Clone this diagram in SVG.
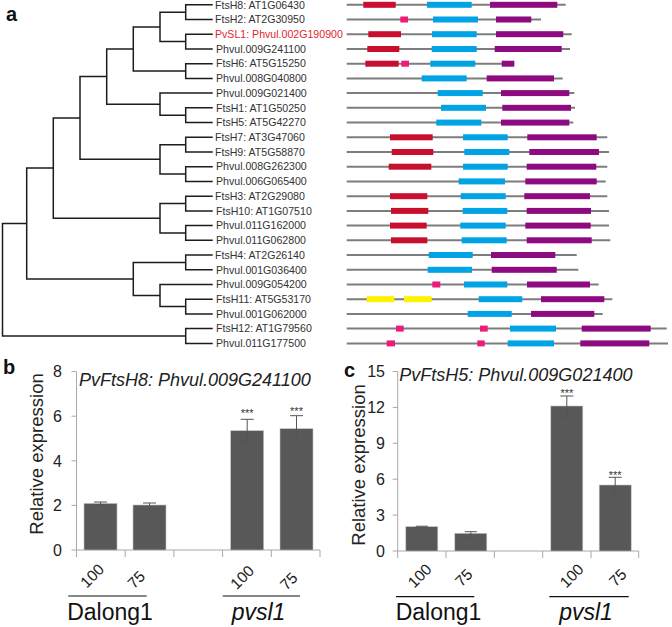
<svg xmlns="http://www.w3.org/2000/svg" width="672" height="627" viewBox="0 0 672 627">
<style>
text{font-family:"Liberation Sans",Arial,sans-serif}
.lb{font-size:10.6px;fill:#333}
.red{fill:#e3262f}
.tree{fill:none;stroke:#1c1c1c;stroke-width:1.5;stroke-linecap:square}
.ln{stroke:#7d7d7d;stroke-width:2}
.R{fill:#c8102e}.K{fill:#ec1c78}.B{fill:#00a3e4}.P{fill:#8e0a80}.Y{fill:#fff200}
.ax{stroke:#a8a8a8;stroke-width:1;fill:none}
.bar{fill:#585858;stroke:#c4c4c4;stroke-width:0.6}
.err{stroke:#555;stroke-width:1;fill:none}
.tk{font-size:16px;fill:#222}
.ttl{font-size:18px;font-style:italic;fill:#222}
.yt{font-size:18.5px;fill:#222}
.cat{font-size:15.5px;fill:#222}
.grp{font-size:23px;fill:#111}
.st{font-size:11px;fill:#333}
.pl{font-size:20px;font-weight:bold;fill:#111}
.ul{stroke:#111;stroke-width:1.2}
</style>
<text class="pl" x="6" y="21">a</text>
<g id="connectors">
<path class="tree" d="M212 4.8H185.7V19.5H212 M212 34.2H185.7V49H212 M185.7 12.15H160V41.6H185.7 M212 63.7H185.7V78.4H212 M160 26.9H133.3V71.05H185.7 M212 107.8H185.7V122.6H212 M212 93.1H160V115.2H185.7 M133.3 49H106.7V104.15H160 M212 137.3H185.7V152H212 M212 166.7H185.7V181.4H212 M185.7 144.65H160V174.05H185.7 M106.7 76.6H80V159.35H160 M212 196.2H185.7V210.9H212 M212 225.6H185.7V240.3H212 M185.7 203.55H160V232.95H185.7 M80 118H53.3V218.25H160 M212 255H185.7V269.8H212 M212 299.2H185.7V313.9H212 M212 284.5H160V306.55H185.7 M185.7 262.4H133.3V295.5H160 M53.3 168.1H26.7V278.95H133.3 M212 328.6H185.7V343.4H212 M26.7 223.5H2.5V336H185.7"/>
</g>
<g id="r0"><text class="lb" x="215" y="8.5">FtsH8: AT1G06430</text><line class="ln" x1="346.7" y1="4.8" x2="565.7" y2="4.8"/><rect class="R" x="363.3" y="1.8" width="32.4" height="6"/><rect class="B" x="427" y="1.8" width="44.7" height="6"/><rect class="P" x="490" y="1.8" width="67.3" height="6"/></g>
<g id="r1"><text class="lb" x="215" y="23.2">FtsH2: AT2G30950</text><line class="ln" x1="346.7" y1="19.5" x2="541" y2="19.5"/><rect class="K" x="400.3" y="16.5" width="7.7" height="6"/><rect class="B" x="433" y="16.5" width="45" height="6"/><rect class="P" x="496" y="16.5" width="35.3" height="6"/></g>
<g id="r2"><text class="lb red" x="215" y="37.9">PvSL1: Phvul.002G190900</text><line class="ln" x1="346.7" y1="34.2" x2="571.7" y2="34.2"/><rect class="R" x="368.3" y="31.2" width="32.7" height="6"/><rect class="B" x="432" y="31.2" width="44.7" height="6"/><rect class="P" x="496" y="31.2" width="67.3" height="6"/></g>
<g id="r3"><text class="lb" x="216" y="52.7">Phvul.009G241100</text><line class="ln" x1="346.7" y1="49" x2="570" y2="49"/><rect class="R" x="367.3" y="46" width="32" height="6"/><rect class="B" x="431.7" y="46" width="45" height="6"/><rect class="P" x="494.7" y="46" width="67" height="6"/></g>
<g id="r4"><text class="lb" x="216" y="67.4">FtsH6: AT5G15250</text><line class="ln" x1="346.7" y1="63.7" x2="514.3" y2="63.7"/><rect class="R" x="365.3" y="60.7" width="33.4" height="6"/><rect class="K" x="401.3" y="60.7" width="7.7" height="6"/><rect class="B" x="430.3" y="60.7" width="45" height="6"/><rect class="P" x="501.7" y="60.7" width="12.6" height="6"/></g>
<g id="r5"><text class="lb" x="216" y="82.1">Phvul.008G040800</text><line class="ln" x1="346.7" y1="78.4" x2="562.7" y2="78.4"/><rect class="B" x="421.7" y="75.4" width="45" height="6"/><rect class="P" x="486.7" y="75.4" width="67.3" height="6"/></g>
<g id="r6"><text class="lb" x="216" y="96.8">Phvul.009G021400</text><line class="ln" x1="346.7" y1="93.1" x2="574.3" y2="93.1"/><rect class="B" x="437.7" y="90.1" width="45" height="6"/><rect class="P" x="501" y="90.1" width="68.3" height="6"/></g>
<g id="r7"><text class="lb" x="216" y="111.5">FtsH1: AT1G50250</text><line class="ln" x1="346.7" y1="107.8" x2="575" y2="107.8"/><rect class="B" x="441" y="104.8" width="45" height="6"/><rect class="P" x="502.3" y="104.8" width="68.7" height="6"/></g>
<g id="r8"><text class="lb" x="216" y="126.3">FtsH5: AT5G42270</text><line class="ln" x1="346.7" y1="122.6" x2="573.3" y2="122.6"/><rect class="B" x="436.3" y="119.6" width="45" height="6"/><rect class="P" x="501" y="119.6" width="68.3" height="6"/></g>
<g id="r9"><text class="lb" x="215" y="141">FtsH7: AT3G47060</text><line class="ln" x1="346.7" y1="137.3" x2="607.3" y2="137.3"/><rect class="R" x="390" y="134.3" width="42.7" height="6"/><rect class="B" x="463" y="134.3" width="44.7" height="6"/><rect class="P" x="527.3" y="134.3" width="69.4" height="6"/></g>
<g id="r10"><text class="lb" x="215" y="155.7">FtsH9: AT5G58870</text><line class="ln" x1="346.7" y1="152" x2="609" y2="152"/><rect class="R" x="391.7" y="149" width="41.6" height="6"/><rect class="B" x="464.3" y="149" width="45" height="6"/><rect class="P" x="529.3" y="149" width="69.7" height="6"/></g>
<g id="r11"><text class="lb" x="216" y="170.4">Phvul.008G262300</text><line class="ln" x1="346.7" y1="166.7" x2="607.3" y2="166.7"/><rect class="R" x="388.7" y="163.7" width="42.6" height="6"/><rect class="B" x="463" y="163.7" width="44.7" height="6"/><rect class="P" x="526.7" y="163.7" width="69.6" height="6"/></g>
<g id="r12"><text class="lb" x="216" y="185.1">Phvul.006G065400</text><line class="ln" x1="346.7" y1="181.4" x2="605.7" y2="181.4"/><rect class="B" x="458.7" y="178.4" width="46.3" height="6"/><rect class="P" x="525.3" y="178.4" width="71.4" height="6"/></g>
<g id="r13"><text class="lb" x="215" y="199.9">FtsH3: AT2G29080</text><line class="ln" x1="346.7" y1="196.2" x2="607.3" y2="196.2"/><rect class="R" x="390" y="193.2" width="37.3" height="6"/><rect class="B" x="460.7" y="193.2" width="45" height="6"/><rect class="P" x="524.3" y="193.2" width="65.7" height="6"/></g>
<g id="r14"><text class="lb" x="216" y="214.6">FtsH10: AT1G07510</text><line class="ln" x1="346.7" y1="210.9" x2="609" y2="210.9"/><rect class="R" x="391" y="207.9" width="37.3" height="6"/><rect class="B" x="462.7" y="207.9" width="44.6" height="6"/><rect class="P" x="526.7" y="207.9" width="64.3" height="6"/></g>
<g id="r15"><text class="lb" x="216" y="229.3">Phvul.011G162000</text><line class="ln" x1="346.7" y1="225.6" x2="609" y2="225.6"/><rect class="R" x="390" y="222.6" width="36.7" height="6"/><rect class="B" x="460.3" y="222.6" width="45.4" height="6"/><rect class="P" x="525.3" y="222.6" width="65.4" height="6"/></g>
<g id="r16"><text class="lb" x="216" y="244">Phvul.011G062800</text><line class="ln" x1="346.7" y1="240.3" x2="610.3" y2="240.3"/><rect class="R" x="391" y="237.3" width="36.3" height="6"/><rect class="B" x="461.7" y="237.3" width="45" height="6"/><rect class="P" x="526.7" y="237.3" width="65" height="6"/></g>
<g id="r17"><text class="lb" x="215" y="258.7">FtsH4: AT2G26140</text><line class="ln" x1="346.7" y1="255" x2="576.7" y2="255"/><rect class="B" x="428.7" y="252" width="44" height="6"/><rect class="P" x="491" y="252" width="64.3" height="6"/></g>
<g id="r18"><text class="lb" x="216" y="273.5">Phvul.001G036400</text><line class="ln" x1="346.7" y1="269.8" x2="578.3" y2="269.8"/><rect class="B" x="427.7" y="266.8" width="44.3" height="6"/><rect class="P" x="491.7" y="266.8" width="65" height="6"/></g>
<g id="r19"><text class="lb" x="216" y="288.2">Phvul.009G054200</text><line class="ln" x1="346.7" y1="284.5" x2="598.7" y2="284.5"/><rect class="K" x="432.3" y="281.5" width="8" height="6"/><rect class="B" x="464" y="281.5" width="43.3" height="6"/><rect class="P" x="527" y="281.5" width="63" height="6"/></g>
<g id="r20"><text class="lb" x="216" y="302.9">FtsH11: AT5G53170</text><line class="ln" x1="346.7" y1="299.2" x2="612.3" y2="299.2"/><rect class="Y" x="366.7" y="296.2" width="27.6" height="6"/><rect class="Y" x="404" y="296.2" width="27.7" height="6"/><rect class="B" x="478.7" y="296.2" width="43.6" height="6"/><rect class="P" x="541" y="296.2" width="63.3" height="6"/></g>
<g id="r21"><text class="lb" x="216" y="317.6">Phvul.001G062000</text><line class="ln" x1="346.7" y1="313.9" x2="602.7" y2="313.9"/><rect class="B" x="467.7" y="310.9" width="44" height="6"/><rect class="P" x="531" y="310.9" width="63.3" height="6"/></g>
<g id="r22"><text class="lb" x="216" y="332.3">FtsH12: AT1G79560</text><line class="ln" x1="346.7" y1="328.6" x2="666.7" y2="328.6"/><rect class="K" x="396" y="325.6" width="7.7" height="6"/><rect class="K" x="480" y="325.6" width="7.7" height="6"/><rect class="B" x="510" y="325.6" width="46" height="6"/><rect class="P" x="581.7" y="325.6" width="69" height="6"/></g>
<g id="r23"><text class="lb" x="216" y="347.1">Phvul.011G177500</text><line class="ln" x1="346.7" y1="343.4" x2="668" y2="343.4"/><rect class="K" x="386.7" y="340.4" width="8.3" height="6"/><rect class="K" x="477.3" y="340.4" width="7.4" height="6"/><rect class="B" x="507.7" y="340.4" width="46.3" height="6"/><rect class="P" x="580.3" y="340.4" width="69" height="6"/></g>

<g id="chart-b">
<text class="pl" x="3" y="373.5">b</text>
<path class="ax" d="M76.5 371.6V550H320 M71.5 371.6H76.5 M71.5 416.2H76.5 M71.5 460.8H76.5 M71.5 505.4H76.5 M71.5 550H76.5 M76.5 550V557 M125.2 550V557 M173.9 550V557 M222.6 550V557 M271.3 550V557 M320 550V557"/>
<text class="tk" x="62" y="377.4" text-anchor="end">8</text>
<text class="tk" x="62" y="422" text-anchor="end">6</text>
<text class="tk" x="62" y="466.6" text-anchor="end">4</text>
<text class="tk" x="62" y="511.2" text-anchor="end">2</text>
<text class="tk" x="62" y="555.8" text-anchor="end">0</text>
<text class="yt" transform="translate(43.3,454) rotate(-90)" text-anchor="middle">Relative expression</text>
<text class="ttl" x="79" y="385.5">PvFtsH8: Phvul.009G241100</text>
<rect class="bar" x="84" y="503.4" width="33" height="46.6"/>
<rect class="bar" x="133" y="505" width="33" height="45"/>
<rect class="bar" x="230.7" y="430.7" width="33" height="119.3"/>
<rect class="bar" x="280" y="428.7" width="33" height="121.3"/>
<path class="err" d="M100.5 502V504.6 M94 502H107 M94 504.6H107 M149.5 503V509.3 M143 503H156 M143 509.3H156 M247.2 419.3V442.7 M240.7 419.3H253.7 M240.7 442.7H253.7 M296.5 415.7V442.7 M290 415.7H303 M290 442.7H303"/>
<text class="st" x="247.2" y="416.5" text-anchor="middle">***</text>
<text class="st" x="296.5" y="415" text-anchor="middle">***</text>
<text class="cat" transform="translate(96,579.5) rotate(-45)" text-anchor="middle">100</text>
<text class="cat" transform="translate(140,583.5) rotate(-45)" text-anchor="middle">75</text>
<text class="cat" transform="translate(246,581) rotate(-45)" text-anchor="middle">100</text>
<text class="cat" transform="translate(292.5,585) rotate(-45)" text-anchor="middle">75</text>
<line class="ul" x1="68.3" y1="596" x2="146.7" y2="596"/>
<line class="ul" x1="222.7" y1="596" x2="300" y2="596"/>
<text class="grp" x="110" y="620" text-anchor="middle">Dalong1</text>
<text class="grp" x="258.5" y="620" text-anchor="middle" font-style="italic">pvsl1</text>
</g>

<g id="chart-c">
<text class="pl" x="344" y="377">c</text>
<path class="ax" d="M397.7 371.5V551H638.7 M392.7 371.5H397.7 M392.7 407.4H397.7 M392.7 443.3H397.7 M392.7 479.2H397.7 M392.7 515.1H397.7 M392.7 551H397.7 M397.7 551V558 M446 551V558 M494.3 551V558 M542.7 551V558 M591 551V558 M638.7 551V558"/>
<text class="tk" x="385" y="377.3" text-anchor="end">15</text>
<text class="tk" x="385" y="413.2" text-anchor="end">12</text>
<text class="tk" x="385" y="449.1" text-anchor="end">9</text>
<text class="tk" x="385" y="485" text-anchor="end">6</text>
<text class="tk" x="385" y="520.9" text-anchor="end">3</text>
<text class="tk" x="385" y="556.8" text-anchor="end">0</text>
<text class="yt" transform="translate(364.5,465) rotate(-90)" text-anchor="middle">Relative expression</text>
<text class="ttl" x="399.3" y="381">PvFtsH5: Phvul.009G021400</text>
<rect class="bar" x="405.8" y="526.7" width="32" height="24.3"/>
<rect class="bar" x="454.8" y="533.3" width="32" height="17.7"/>
<rect class="bar" x="550.8" y="406" width="32" height="145"/>
<rect class="bar" x="599.2" y="485" width="32" height="66"/>
<path class="err" d="M415.8 526.2H427.8 M415.8 527.4H427.8 M470.8 531.7V536.7 M464.8 531.7H476.8 M464.8 536.7H476.8 M566.8 396V417.3 M560.3 396H573.3 M560.3 417.3H573.3 M615.2 477.3V493.3 M608.7 477.3H621.7 M608.7 493.3H621.7"/>
<text class="st" x="566.8" y="397" text-anchor="middle">***</text>
<text class="st" x="615.2" y="478.5" text-anchor="middle">***</text>
<text class="cat" transform="translate(423.5,579.5) rotate(-45)" text-anchor="middle">100</text>
<text class="cat" transform="translate(467.5,581.5) rotate(-45)" text-anchor="middle">75</text>
<text class="cat" transform="translate(575.5,579.5) rotate(-45)" text-anchor="middle">100</text>
<text class="cat" transform="translate(621.5,581.5) rotate(-45)" text-anchor="middle">75</text>
<line class="ul" x1="396" y1="596.7" x2="474.3" y2="596.7"/>
<line class="ul" x1="549.3" y1="596.7" x2="628.7" y2="596.7"/>
<text class="grp" x="438.5" y="620" text-anchor="middle">Dalong1</text>
<text class="grp" x="586" y="620" text-anchor="middle" font-style="italic">pvsl1</text>
</g>
</svg>
